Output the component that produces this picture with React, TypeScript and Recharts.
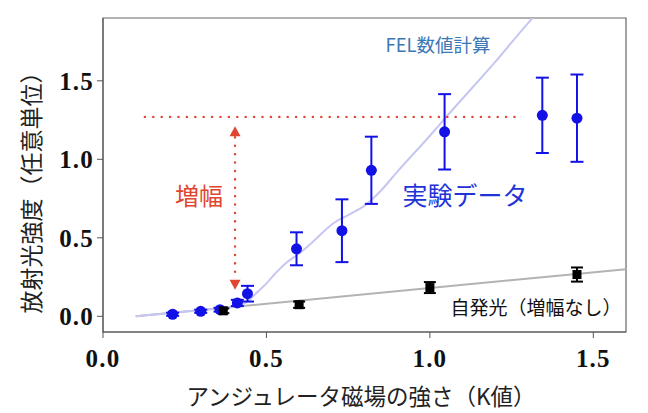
import {
  ComposedChart,
  XAxis,
  YAxis,
  Line,
  Scatter,
  ErrorBar,
  ReferenceLine,
  ReferenceArea,
  ReferenceDot,
} from "recharts";

// measured data (K value, intensity, error)
const felPoints = [
  { x: 0.213, y: 0.013, err: 0.01 },
  { x: 0.299, y: 0.032, err: 0.01 },
  { x: 0.358, y: 0.042, err: 0.012 },
  { x: 0.411, y: 0.085, err: 0.02 },
  { x: 0.442, y: 0.144, err: 0.05 },
  { x: 0.592, y: 0.43, err: 0.105 },
  { x: 0.731, y: 0.545, err: 0.2 },
  { x: 0.821, y: 0.93, err: 0.214 },
  { x: 1.045, y: 1.175, err: 0.24 },
  { x: 1.344, y: 1.28, err: 0.24 },
  { x: 1.45, y: 1.262, err: 0.278 },
];

const spontaneousPoints = [
  { x: 0.368, y: 0.035, err: 0.015 },
  { x: 0.6, y: 0.074, err: 0.02 },
  { x: 1.0, y: 0.183, err: 0.035 },
  { x: 1.45, y: 0.266, err: 0.045 },
];

// simulation curve and spontaneous baseline
const felCalc = [
  { x: 0.1, y: 0.0 },
  { x: 0.2, y: 0.02 },
  { x: 0.3, y: 0.04 },
  { x: 0.4, y: 0.062 },
  { x: 0.44, y: 0.09 },
  { x: 0.47, y: 0.15 },
  { x: 0.5, y: 0.21 },
  { x: 0.53, y: 0.28 },
  { x: 0.56, y: 0.34 },
  { x: 0.6, y: 0.4 },
  { x: 0.65, y: 0.49 },
  { x: 0.7, y: 0.585 },
  { x: 0.75, y: 0.645 },
  { x: 0.8, y: 0.705 },
  { x: 0.85, y: 0.8 },
  { x: 0.9, y: 0.92 },
  { x: 1.0, y: 1.15 },
  { x: 1.05, y: 1.27 },
  { x: 1.2, y: 1.62 },
  { x: 1.31, y: 1.89 },
  { x: 1.36, y: 2.0 },
];

const baseline = [
  { x: 0.1, y: 0.0 },
  { x: 1.6, y: 0.3 },
];

const xTicks = [0, 0.5, 1.0, 1.5];
const yTicks = [0, 0.5, 1.0, 1.5];

const gainLevel = 1.27;
const gainX = 0.404;

const RED = "#e0452f";
const BLUE = "#1212e6";
const JP = "'Noto Sans CJK JP', 'Noto Sans', sans-serif";
const SERIF = "'Liberation Serif', 'DejaVu Serif', serif";

function XTick(props: any) {
  return (
    <text
      x={props.x}
      y={props.y}
      dy="0.71em"
      textAnchor="middle"
      fontFamily={SERIF}
      fontWeight={700}
      fontSize={25}
      letterSpacing={1.2}
      fill="#111"
    >
      {Number(props.payload.value).toFixed(1)}
    </text>
  );
}

function YTick(props: any) {
  return (
    <text
      x={props.x}
      y={props.y}
      dy="0.355em"
      textAnchor="end"
      fontFamily={SERIF}
      fontWeight={700}
      fontSize={25}
      letterSpacing={1.2}
      fill="#111"
    >
      {Number(props.payload.value).toFixed(1)}
    </text>
  );
}

function BlueDot(props: any) {
  return <circle cx={props.cx} cy={props.cy} r={5.5} fill={BLUE} />;
}

function BlackSquare(props: any) {
  return <rect x={props.cx - 4.5} y={props.cy - 4.5} width={9} height={9} fill="#000" />;
}

function ArrowUp(props: any) {
  const { cx, cy } = props;
  return <polygon points={`${cx},${cy} ${cx - 5.5},${cy + 10} ${cx + 5.5},${cy + 10}`} fill={RED} />;
}

function ArrowDown(props: any) {
  const { cx, cy } = props;
  return <polygon points={`${cx},${cy} ${cx - 5.5},${cy - 10} ${cx + 5.5},${cy - 10}`} fill={RED} />;
}

export default function App() {
  return (
    <div style={{ position: "absolute", left: 0, top: 0, width: 648, height: 413, background: "#fff" }}>
      <ComposedChart
        width={648}
        height={413}
        margin={{ top: 18, right: 22, bottom: 0, left: 0 }}
      >
        <XAxis
          type="number"
          dataKey="x"
          domain={[0, 1.6]}
          ticks={xTicks}
          tick={XTick}
          tickSize={6}
          tickMargin={11}
          height={81}
          stroke="#555"
          allowDataOverflow
        />
        <YAxis
          type="number"
          dataKey="y"
          domain={[-0.1, 1.9]}
          ticks={yTicks}
          tick={YTick}
          tickSize={6}
          tickMargin={3}
          width={103}
          stroke="#555"
          allowDataOverflow
        />
        <ReferenceArea x1={0} x2={1.6} y1={-0.1} y2={1.9} fill="none" stroke="#666" strokeWidth={1.2} />
        <Line
          data={baseline}
          dataKey="y"
          type="linear"
          stroke="#b3b3b3"
          strokeWidth={2}
          dot={false}
          isAnimationActive={false}
        />
        <Line
          data={felCalc}
          dataKey="y"
          type="monotone"
          stroke="#c6c6f3"
          strokeWidth={2}
          dot={false}
          isAnimationActive={false}
        />
        <Scatter data={felPoints} shape={BlueDot} isAnimationActive={false}>
          <ErrorBar dataKey="err" direction="y" width={6.5} strokeWidth={2} stroke={BLUE} />
        </Scatter>
        <Scatter data={spontaneousPoints} shape={BlackSquare} isAnimationActive={false}>
          <ErrorBar dataKey="err" direction="y" width={6} strokeWidth={2} stroke="#000" />
        </Scatter>
        <ReferenceLine
          segment={[
            { x: 0.128, y: gainLevel },
            { x: 1.27, y: gainLevel },
          ]}
          stroke={RED}
          strokeWidth={2.4}
          strokeDasharray="0.1 8.3"
          strokeLinecap="round"
        />
        <ReferenceLine
          segment={[
            { x: gainX, y: 1.14 },
            { x: gainX, y: 0.24 },
          ]}
          stroke={RED}
          strokeWidth={2.4}
          strokeDasharray="0.1 8.3"
          strokeLinecap="round"
        />
        <ReferenceDot x={gainX} y={1.21} shape={ArrowUp} />
        <ReferenceDot x={gainX} y={0.169} shape={ArrowDown} />
      </ComposedChart>
      <svg
        width={648}
        height={413}
        style={{ position: "absolute", left: 0, top: 0, pointerEvents: "none" }}
      >
        <text x={361} y={395} textAnchor="middle" dominantBaseline="central" fontFamily={JP} fontSize={22.5} fill="#222">
          アンジュレータ磁場の強さ（K値）
        </text>
        <text
          x={30}
          y={187}
          textAnchor="middle"
          dominantBaseline="central"
          fontFamily={JP}
          fontSize={23}
          fill="#222"
          transform="rotate(-90 30 187)"
        >
          放射光強度（任意単位）
        </text>
        <text x={199} y={194} textAnchor="middle" dominantBaseline="central" fontFamily={JP} fontSize={24} fill={RED}>
          増幅
        </text>
        <text x={465} y={194} textAnchor="middle" dominantBaseline="central" fontFamily={JP} fontSize={25} fill="#1f33d9">
          実験データ
        </text>
        <text x={438} y={44} textAnchor="middle" dominantBaseline="central" fontFamily={JP} fontSize={18.5} fill="#3b78b5">
          FEL数値計算
        </text>
        <text x={536} y={306} textAnchor="middle" dominantBaseline="central" fontFamily={JP} fontSize={19} fill="#111">
          自発光（増幅なし）
        </text>
      </svg>
    </div>
  );
}
